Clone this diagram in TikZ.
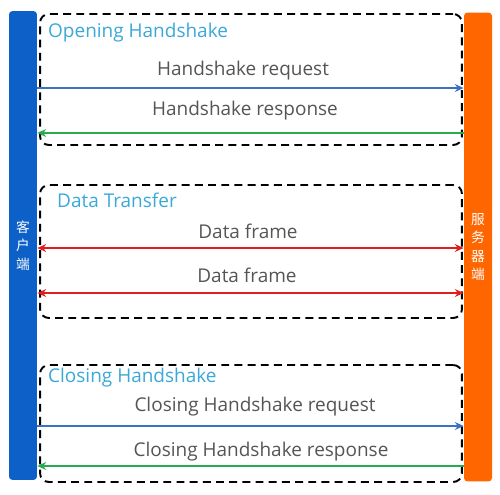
\documentclass[tikz,border=0pt]{standalone}
\usepackage{fontspec}
\setmainfont{Open Sans}
\newfontfamily\cjkfont{Noto Sans CJK SC}
\usetikzlibrary{arrows.meta,positioning}
\definecolor{clientblue}{RGB}{12,96,200}
\definecolor{serverorange}{RGB}{255,102,0}
\definecolor{phasecyan}{RGB}{58,168,216}
\definecolor{msggray}{RGB}{85,85,85}
\definecolor{reqblue}{RGB}{60,112,192}
\definecolor{respgreen}{RGB}{40,170,80}
\definecolor{datared}{RGB}{225,30,30}

\begin{document}
\begin{tikzpicture}[
    x=0.02cm, y=-0.02cm,
    bar/.style={rounded corners=2pt, minimum width=0.56cm, minimum height=9.38cm, inner sep=0pt,
        text=white, align=center, font=\cjkfont\fontsize{7.8}{10.4}\selectfont},
    phase/.style={draw, dashed, dash pattern=on 4.5pt off 3pt, line width=1.1pt, rounded corners=5pt,
        minimum width=8.44cm, inner sep=0pt},
    title/.style={anchor=west, text=phasecyan, font=\fontsize{10.8}{12}\selectfont},
    msg/.style={text=msggray, font=\fontsize{10.8}{12}\selectfont},
    req/.style={-{Stealth[length=5pt,width=4.5pt]}, line width=1pt, reqblue},
    resp/.style={{Stealth[length=5pt,width=4.5pt]}-, line width=1.3pt, respgreen},
    frame/.style={{Stealth[length=5pt,width=4.5pt]}-{Stealth[length=5pt,width=4.5pt]}, line width=1.2pt, datared},
]
    \useasboundingbox (0,0) rectangle (500,494);

    % Phases (dashed frames)
    \node[phase, minimum height=2.62cm] (opening) at (251,79.5) {};
    \node[phase, minimum height=2.66cm] (transfer) at (251,251.5) {};
    \node[phase, minimum height=2.34cm] (closing) at (251,423.5) {};

    % Client and server bars
    \node[bar, fill=clientblue] (client) at (23,245.5) {客\\户\\端};
    \node[bar, fill=serverorange] (server) at (478,247) {服\\务\\器\\端};

    % Phase titles
    \node[title] (openT) at (42,33) {Opening Handshake};
    \node[title] (dataT) at (51,200) {Data Transfer};
    \node[title] (closeT) at (42,378) {Closing Handshake};

    % Message heights
    \coordinate (m1) at (250,88);
    \coordinate (m2) at (250,133);
    \coordinate (m3) at (250,248);
    \coordinate (m4) at (250,293);
    \coordinate (m5) at (250,426);
    \coordinate (m6) at (250,466);

    % Messages
    \draw[req] (client.east |- m1) -- (server.west |- m1);
    \node[msg] (openReq) at (243,71) {Handshake request};
    \draw[resp] (client.east |- m2) -- (server.west |- m2);
    \node[msg] (openResp) at (245,111) {Handshake response};

    \draw[frame] (client.east |- m3) -- (server.west |- m3);
    \node[msg] (frameA) at (248,231) {Data frame};
    \draw[frame] (client.east |- m4) -- (server.west |- m4);
    \node[msg] (frameB) at (247,275) {Data frame};

    \draw[req] (client.east |- m5) -- (server.west |- m5);
    \node[msg] (closeReq) at (255,407) {Closing Handshake request};
    \draw[resp] (client.east |- m6) -- (server.west |- m6);
    \node[msg] (closeResp) at (261,452) {Closing Handshake response};
\end{tikzpicture}
\end{document}
